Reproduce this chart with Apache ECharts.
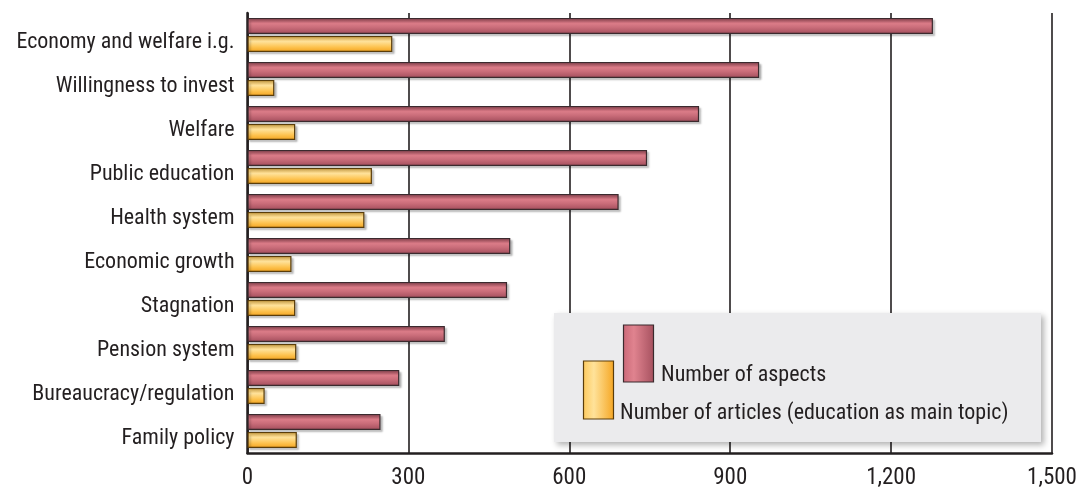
<!DOCTYPE html>
<html>
<head>
<meta charset="utf-8">
<script src="https://cdn.jsdelivr.net/npm/echarts@6/dist/echarts.min.js"></script>
<style>
html,body{margin:0;padding:0;background:#fff;}
#chart{width:1092px;height:490px;}
</style>
</head>
<body>
<div id="chart"></div>
<script>
const categories = ["Economy and welfare i.g.", "Willingness to invest", "Welfare", "Public education", "Health system", "Economic growth", "Stagnation", "Pension system", "Bureaucracy/regulation", "Family policy"];
const aspectsName = "Number of aspects";
const articlesName = "Number of articles (education as main topic)";
const aspects = [1278, 954, 842, 745, 692, 490, 484, 368, 283, 248];
const articles = [270, 50, 89, 232, 218, 82, 89, 91, 32, 92];
const xTicks = [0, 300, 600, 900, 1200, 1500];

const FONT = "'Roboto Condensed', 'DejaVu Sans Condensed', sans-serif";
const INK = '#231f20';

const redFill = new echarts.graphic.LinearGradient(0, 0, 0, 1, [
  {offset: 0, color: '#a9515f'},
  {offset: 0.35, color: '#db7c88'},
  {offset: 0.6, color: '#c96c79'},
  {offset: 1, color: '#a24d5c'}
]);
const orangeFill = new echarts.graphic.LinearGradient(0, 0, 0, 1, [
  {offset: 0, color: '#fcc85a'},
  {offset: 0.35, color: '#ffe29a'},
  {offset: 0.7, color: '#fdc24e'},
  {offset: 1, color: '#f2a21e'}
]);
const redSwatch = new echarts.graphic.LinearGradient(0, 0, 1, 0, [
  {offset: 0, color: '#c96877'},
  {offset: 0.35, color: '#e0838f'},
  {offset: 1, color: '#a6515f'}
]);
const orangeSwatch = new echarts.graphic.LinearGradient(0, 0, 1, 0, [
  {offset: 0, color: '#fdc95c'},
  {offset: 0.35, color: '#ffe29a'},
  {offset: 1, color: '#f5a623'}
]);

const chart = echarts.init(document.getElementById('chart'), null, {renderer: 'canvas'});
chart.setOption({
  animation: false,
  backgroundColor: '#ffffff',
  grid: {left: 247.5, right: 40, top: 13, bottom: 37, containLabel: false, outerBoundsMode: 'none'},
  xAxis: {
    type: 'value', min: xTicks[0], max: xTicks[xTicks.length - 1], interval: 300,
    axisLine: {show: true, lineStyle: {color: INK, width: 2.5}},
    axisTick: {show: false},
    splitLine: {show: true, lineStyle: {color: INK, width: 1.6}},
    axisLabel: {
      color: INK, fontFamily: FONT, fontSize: 23, margin: 14,
      formatter: v => v.toLocaleString('en-US')
    }
  },
  yAxis: {
    type: 'category', data: categories, inverse: true,
    axisLine: {show: true, lineStyle: {color: INK, width: 2.5}},
    axisTick: {show: false},
    axisLabel: {color: INK, fontFamily: FONT, fontSize: 22, margin: 13, verticalAlign: 'top', lineHeight: 15}
  },
  series: [
    {
      name: aspectsName, type: 'bar', data: aspects, barWidth: 16, barGap: '12.5%',
      itemStyle: {color: redFill, borderColor: '#3b2a2e', borderWidth: 1.2,
        shadowColor: 'rgba(0,0,0,0.25)', shadowBlur: 2, shadowOffsetX: 2, shadowOffsetY: 2}
    },
    {
      name: articlesName, type: 'bar', data: articles, barWidth: 16, barGap: '12.5%',
      itemStyle: {color: orangeFill, borderColor: '#5a3d0a', borderWidth: 1.2,
        shadowColor: 'rgba(0,0,0,0.25)', shadowBlur: 2, shadowOffsetX: 2, shadowOffsetY: 2}
    }
  ],
  graphic: [
    {
      type: 'group', left: 554, top: 313, z: 100, zlevel: 1,
      children: [
        {type: 'rect', z: 100, zlevel: 1, shape: {x: 0, y: 0, width: 487, height: 129},
          style: {fill: '#ebebed', shadowColor: 'rgba(0,0,0,0.3)', shadowBlur: 6, shadowOffsetX: 3, shadowOffsetY: 3}},
        {type: 'rect', z: 101, zlevel: 1, shape: {x: 69.5, y: 12, width: 30, height: 57},
          style: {fill: redSwatch, stroke: '#3b2a2e', lineWidth: 1.2}},
        {type: 'rect', z: 101, zlevel: 1, shape: {x: 29.5, y: 48, width: 30, height: 58},
          style: {fill: orangeSwatch, stroke: '#5a3d0a', lineWidth: 1.2}},
        {type: 'text', z: 101, zlevel: 1, x: 107, y: 73, style: {text: aspectsName, fill: INK, font: '22px ' + FONT, textVerticalAlign: 'bottom'}},
        {type: 'text', z: 101, zlevel: 1, x: 66, y: 111, style: {text: articlesName, fill: INK, font: '22px ' + FONT, textVerticalAlign: 'bottom'}}
      ]
    }
  ]
});
</script>
</body>
</html>
